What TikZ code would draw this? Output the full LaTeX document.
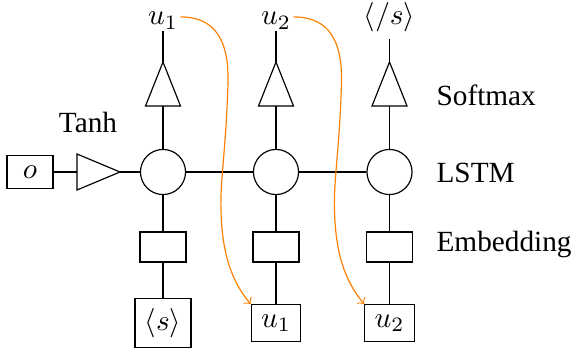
\documentclass[tikz,border=0pt]{standalone}
\usepackage{fontspec}
\setmainfont{Liberation Serif}
\usetikzlibrary{calc}
\begin{document}
\begin{tikzpicture}[x=0.3415pt,y=-0.3415pt,
  cell/.style={draw,circle,minimum size=15.4pt,inner sep=0pt},
  emb/.style={draw,minimum width=15.7pt,minimum height=10.2pt,inner sep=0pt},
  tok/.style={draw},
  outlab/.style={anchor=base,inner sep=0.3pt},
  side/.style={anchor=base west,inner sep=0pt},
  flow/.style={->,orange}]
\useasboundingbox (0,0) rectangle (571,349);
% input o and tanh
\node[draw,minimum width=15.7pt,minimum height=11.3pt,inner sep=0pt] (o) at (30,172) {$o$};
\coordinate (tb) at (77,172);
\coordinate (ta) at (120,172);
\draw ($(tb)+(0,-18)$) -- (ta) -- ($(tb)+(0,18)$) -- cycle;
\node[anchor=base,inner sep=0pt] (tanh) at (88,133) {Tanh};
% LSTM cells
\node[cell] (c1) at (163,172) {};
\node[cell] (c2) at (276,172) {};
\node[cell] (c3) at (389.5,172) {};
% embeddings
\node[emb] (e1) at (163,247) {};
\node[emb] (e2) at (276,247) {};
\node[emb] (e3) at (389.5,247) {};
% bottom tokens
\node[tok] (b1) at (163,323) {$\langle s\rangle$};
\node[tok] (b2) at (276,323) {$u_1$};
\node[tok] (b3) at (389.5,323) {$u_2$};
% softmax triangles
\foreach \i/\x in {1/163,2/276,3/389.5}{
  \coordinate (sa\i) at (\x,62);
  \coordinate (sb\i) at (\x,106);
  \draw ($(sb\i)+(-17.5,0)$) -- (sa\i) -- ($(sb\i)+(17.5,0)$) -- cycle;
}
% outputs
\node[outlab] (t1) at (163,25) {$u_1$};
\node[outlab] (t2) at (276,25) {$u_2$};
\node[outlab,inner sep=2pt] (t3) at (389.5,25) {$\langle/s\rangle$};
% side labels
\node[side] (lsm) at (436,106) {Softmax};
\node[side] (llstm) at (436,182) {LSTM};
\node[side] (lemb) at (436,251) {Embedding};
% connectors
\draw (o.east) -- (tb);
\draw (ta) -- (c1.west);
\draw (c1.east) -- (c2.west);
\draw (c2.east) -- (c3.west);
\foreach \i in {1,2,3}{
  \draw (c\i.north) -- (sb\i);
  \draw (sa\i) -- (sa\i |- t\i.south);
  \draw (c\i.south) -- (e\i.north);
  \draw (e\i.south) -- (b\i.north);
}
% feedback arrows
\draw[flow] ($(t1.east)+(1,-4)$) .. controls (215,17) and (229,40) .. (228,83)
  .. controls (226,150) and (220,180) .. (221,210)
  .. controls (222,260) and (235,285) .. (b2.north west);
\draw[flow] ($(t2.east)+(1,-4)$) .. controls (328.5,17) and (342.5,40) .. (341.5,83)
  .. controls (339.5,150) and (333.5,180) .. (334.5,210)
  .. controls (335.5,260) and (348.5,285) .. (b3.north west);
\end{tikzpicture}
\end{document}
